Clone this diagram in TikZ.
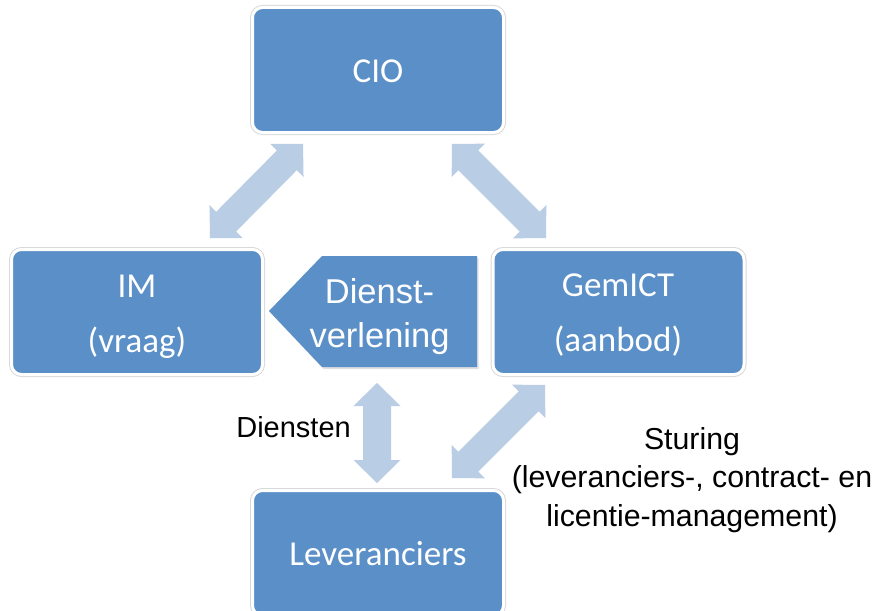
\documentclass[tikz,border=0pt]{standalone}
\usepackage{fontspec}
\setmainfont{Carlito}
\newfontfamily\arialf{Liberation Sans}
\usetikzlibrary{calc}
\definecolor{boxblue}{HTML}{5B8FC7}
\definecolor{arrowblue}{HTML}{B9CDE4}
\definecolor{rimgray}{HTML}{D9D9D9}
\tikzset{
  box/.style={rectangle, rounded corners=10pt, fill=boxblue, draw=white, line width=3pt,
    minimum width=251pt, minimum height=125pt, inner sep=0pt,
    preaction={draw=rimgray, line width=5pt}},
  boxlbl/.style={text=white, font=\fontsize{35pt}{55pt}\selectfont, align=center, inner sep=0pt, anchor=base},
  dvlbl/.style={text=white, font=\arialf\fontsize{34.5pt}{44pt}\selectfont, align=center, inner sep=0pt, anchor=base},
  sidelbl/.style={text=black, font=\arialf\fontsize{30.3pt}{38.5pt}\selectfont, align=center, inner sep=0pt},
  arrowshape/.style={fill=arrowblue},
  pentshape/.style={fill=boxblue},
}
\newcommand\dblarr[2]{%
  \fill[arrowshape] (#1)
    -- ($(#1)!23pt!(#2)!23.5pt!90:(#2)$)
    -- ($(#1)!23pt!(#2)!14pt!90:(#2)$)
    -- ($(#2)!23pt!(#1)!14pt!-90:(#1)$)
    -- ($(#2)!23pt!(#1)!23.5pt!-90:(#1)$)
    -- (#2)
    -- ($(#2)!23pt!(#1)!23.5pt!90:(#1)$)
    -- ($(#2)!23pt!(#1)!14pt!90:(#1)$)
    -- ($(#1)!23pt!(#2)!14pt!-90:(#2)$)
    -- ($(#1)!23pt!(#2)!23.5pt!-90:(#2)$)
    -- cycle;}
\begin{document}
\begin{tikzpicture}[x=1pt,y=-1pt]
\useasboundingbox (0,0) rectangle (880,610);
\fill[white] (0,0) rectangle (880,610);
\clip (0,0) rectangle (880,610);

% boxes
\node[box] (cio) at (378,70) {};
\node[box] (im) at (137,312) {};
\node[box] (gem) at (618.5,312) {};
\node[box] (lev) at (378,553) {};

% labels (base anchor = baseline of last line)
\node[boxlbl] (ciolbl) at (378,82) {CIO};
\node[boxlbl] (imlbl) at (137,352) {IM\\(vraag)};
\node[boxlbl] (gemlbl) at (618,351) {GemICT\\(aanbod)};
\node[boxlbl] (levlbl) at (378,565) {Leveranciers};

% Dienstverlening pentagon
\coordinate (p1) at (269,311);
\coordinate (p2) at (322,256);
\coordinate (p3) at (477,256);
\coordinate (p4) at (477,367);
\coordinate (p5) at (322,367);
\fill[black, opacity=0.12] ([shift={(1.5,2)}]p1) -- ([shift={(1.5,2)}]p2) -- ([shift={(1.5,2)}]p3) -- ([shift={(1.5,2)}]p4) -- ([shift={(1.5,2)}]p5) -- cycle;
\fill[pentshape] (p1) -- (p2) -- (p3) -- (p4) -- (p5) -- cycle;
\node[dvlbl] (dv) at (379.5,347) {Dienst-\\verlening};

% double arrows
\coordinate (a1s) at (210,238); \coordinate (a1e) at (303,144);
\coordinate (a2s) at (452,144); \coordinate (a2e) at (546,238);
\coordinate (a3s) at (377,383); \coordinate (a3e) at (377,483);
\coordinate (a4s) at (452,478); \coordinate (a4e) at (545,385);
\dblarr{a1s}{a1e}
\dblarr{a2s}{a2e}
\dblarr{a3s}{a3e}
\dblarr{a4s}{a4e}

% side labels
\node[sidelbl, anchor=base east, font=\arialf\fontsize{29pt}{35pt}\selectfont] (diensten) at (351,437) {Diensten};
\node[sidelbl, anchor=base] (sturing) at (692,526) {Sturing\\(leveranciers-, contract- en\\licentie-management)};
\end{tikzpicture}
\end{document}
